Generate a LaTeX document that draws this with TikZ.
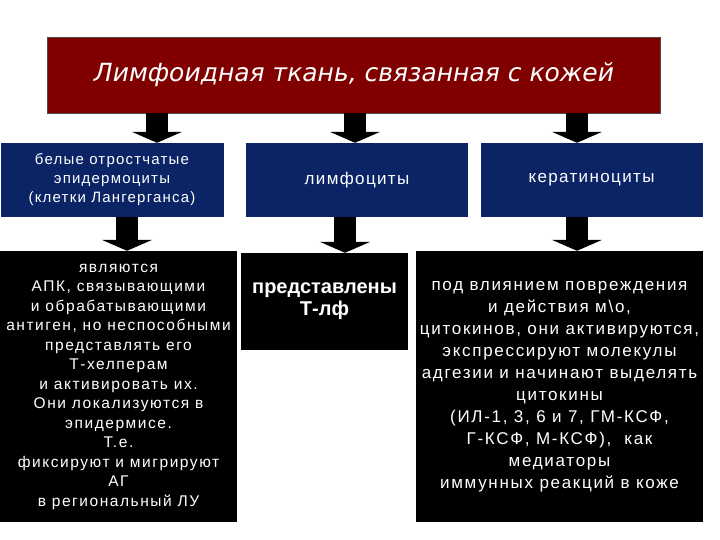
\documentclass[tikz,border=0pt]{standalone}
\usepackage{fontspec}
\setmainfont{Liberation Sans}
\newfontfamily\titlefont{DejaVu Sans}
\newfontfamily\spacedfont[LetterSpace=8]{Liberation Sans}
\newfontfamily\widefont[LetterSpace=10]{Liberation Sans}
\usetikzlibrary{arrows.meta,positioning}
\definecolor{tissuered}{HTML}{800000}
\definecolor{cellblue}{HTML}{0B2466}

\begin{document}
\begin{tikzpicture}[x=1pt,y=-1pt,
  hdr/.style={draw=black!70,fill=tissuered,text=white,minimum width=613pt,minimum height=76pt,font=\titlefont\itshape\fontsize{25pt}{28pt}\selectfont},
  cell/.style={fill=cellblue,text=white,minimum height=74pt,align=center,inner sep=0pt,font=\spacedfont\fontsize{17pt}{19pt}\selectfont},
  info/.style={fill=black,text=white,align=center,inner sep=0pt},
  barr/.style={line width=22pt,-{Triangle[width=50pt,length=11pt]}}
]
  \useasboundingbox (0,0) rectangle (720,540);
  \node[hdr] (title) at (354,75) {Лимфоидная ткань, связанная с кожей};
  % cell types
  \node[cell,minimum width=223pt,font=\spacedfont\fontsize{15pt}{19pt}\selectfont] (langer) at (112,180) {белые отростчатые\\эпидермоциты\\(клетки Лангерганса)};
  \node[cell,minimum width=222pt] (lymph) at (357,180) {лимфоциты};
  \node[cell,minimum width=222pt] (kerat) at (591.5,180) {кератиноциты};
  % what they do
  \node[info,minimum width=237pt,minimum height=271pt,font=\widefont\fontsize{15.5pt}{19.5pt}\selectfont] (langerTxt) at (118.5,386.5)
    {являются\\АПК, связывающими\\и обрабатывающими\\антиген, но неспособными\\представлять его\\Т-хелперам\\и активировать их.\\Они локализуются в\\эпидермисе.\\Т.е.\\фиксируют и мигрируют\\АГ\\в региональный ЛУ};
  \node[info,minimum width=167pt,minimum height=97pt,font=\bfseries\fontsize{20pt}{22pt}\selectfont] (lymphTxt) at (324.5,301.5)
    {представлены\\Т-лф};
  \node[info,minimum width=287pt,minimum height=271pt,font=\widefont\fontsize{17pt}{22pt}\selectfont] (keratTxt) at (559.5,386.5)
    {под влиянием повреждения\\и действия м\textbackslash о,\\цитокинов, они активируются,\\экспрессируют молекулы\\адгезии и начинают выделять\\цитокины\\(ИЛ-1, 3, 6 и 7, ГМ-КСФ,\\Г-КСФ, М-КСФ), \ как\\медиаторы\\иммунных реакций в коже};
  % arrows
  \coordinate (u1) at (157,0); \coordinate (u2) at (355,0); \coordinate (u3) at (577,0);
  \coordinate (d1) at (127,0); \coordinate (d2) at (345,0); \coordinate (d3) at (577,0);
  \draw[barr] (title.south -| u1) -- (langer.north -| u1);
  \draw[barr] (title.south -| u2) -- (lymph.north -| u2);
  \draw[barr] (title.south -| u3) -- (kerat.north -| u3);
  \draw[barr] (langer.south -| d1) -- (langerTxt.north -| d1);
  \draw[barr] (lymph.south -| d2) -- (lymphTxt.north -| d2);
  \draw[barr] (kerat.south -| d3) -- (keratTxt.north -| d3);
\end{tikzpicture}
\end{document}
